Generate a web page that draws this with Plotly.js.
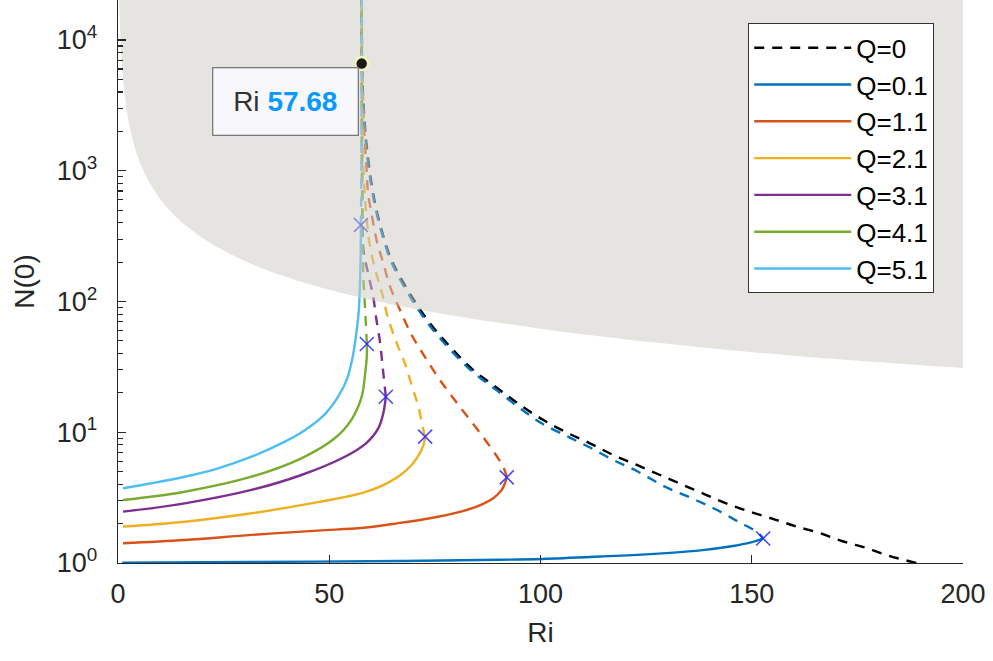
<!DOCTYPE html>
<html>
<head>
<meta charset="utf-8">
<script src="https://cdn.plot.ly/plotly-3.0.1.min.js"></script>
<style>html,body{margin:0;padding:0;background:#fff;}#chart{width:993px;height:661px;}</style>
</head>
<body>
<div id="chart"></div>
<script>
// ---- data ----
const ri_q0 = [57.68, 57.7, 58.05, 58.8, 60.0, 61.2, 62.4, 64.4, 66.75, 70.3, 73.85, 78.6, 84.1, 89.6, 95.1, 100.7, 106.2, 111.7, 117.2, 122.8, 128.3, 133.8, 139.3, 144.9, 150.4, 155.9, 160.6, 166.2, 171.7, 177.2, 182.7, 189.0];
const n_q0  = [30000, 8370, 3470, 1620, 802, 501, 352, 220, 155, 99.6, 68.1, 45.1, 29.9, 22.0, 16.2, 12.4, 9.95, 8.23, 6.70, 5.62, 4.71, 3.95, 3.31, 2.78, 2.42, 2.13, 1.90, 1.69, 1.46, 1.30, 1.13, 1.0];

const ri_q01_s = [1.0, 31.2, 66.7, 90.4, 100.3, 114.1, 125.9, 137.8, 145.6, 149.6, 152.0, 152.7];
const n_q01_s  = [1.005, 1.018, 1.036, 1.058, 1.073, 1.12, 1.17, 1.25, 1.35, 1.43, 1.51, 1.54];
const ri_q01_d = [57.66, 57.68, 57.98, 58.7, 59.9, 61.1, 62.3, 64.3, 66.6, 70.1, 73.6, 78.5, 84.0, 89.6, 95.1, 100.3, 106.2, 111.7, 117.2, 122.8, 129.5, 135.8, 141.3, 146.8, 151.2, 152.7];
const n_q01_d  = [30000, 8000, 3400, 1580, 785, 490, 345, 215, 151, 97, 66.5, 43.3, 28.9, 21.0, 15.3, 11.7, 9.36, 7.64, 6.14, 5.05, 3.83, 3.13, 2.59, 2.07, 1.73, 1.54];

const ri_q11_s = [1.18, 15.8, 31.6, 47.3, 58.1, 66.0, 73.8, 80.2, 84.9, 88.8, 90.8, 91.6, 92.0];
const n_q11_s  = [1.415, 1.50, 1.64, 1.77, 1.86, 2.01, 2.20, 2.43, 2.70, 3.13, 3.62, 4.07, 4.52];
const ri_q11_d = [92.0, 91.6, 90.9, 89.47, 87.1, 84.26, 80.24, 76.2, 72.66, 69.5, 66.75, 64.4, 62.8, 61.2, 60.0, 59.2, 58.8, 58.4, 58.1, 57.8, 57.7];
const n_q11_d  = [4.52, 5.05, 5.62, 6.70, 8.57, 11.36, 16.7, 25.1, 37.6, 55.4, 86.1, 130, 196, 295, 473, 672, 1075, 1720, 2590, 7030, 30000];

const ri_q21_s = [1.18, 15.8, 31.6, 47.3, 58.1, 64.4, 68.3, 70.7, 72.3, 72.7];
const n_q21_s  = [1.90, 2.07, 2.40, 2.92, 3.45, 4.19, 5.14, 6.32, 7.98, 9.25];
const ri_q21_d = [72.7, 72.1, 71.1, 69.5, 67.9, 66.0, 63.9, 62.4, 60.8, 59.6, 58.9, 58.1, 57.8, 57.7];
const n_q21_d  = [9.25, 11.0, 15.7, 23.0, 33.7, 47.9, 74.8, 119, 179, 270, 420, 1010, 3470, 30000];

const ri_q31_s = [1.18, 15.8, 31.6, 43.4, 53.7, 58.7, 61.6, 62.8, 63.4];
const n_q31_s  = [2.47, 2.86, 3.62, 4.71, 6.50, 8.23, 10.7, 14.0, 18.7];
const ri_q31_d = [63.4, 62.8, 62.4, 62.0, 61.1, 60.4, 59.2, 58.1, 57.8, 57.7, 57.68];
const n_q31_d  = [18.7, 28.2, 37.8, 49.3, 74.8, 109, 164, 248, 597, 3470, 30000];

const ri_q41_s = [1.18, 15.8, 31.6, 43.4, 51.3, 55.2, 57.6, 58.5, 58.9, 58.9];
const n_q41_s  = [3.03, 3.51, 4.57, 6.32, 8.99, 12.4, 18.3, 28.2, 39.0, 47.3];
const ri_q41_d = [58.9, 58.5, 58.1, 57.9, 57.8, 57.7, 57.68];
const n_q41_d  = [47.3, 86.1, 146, 295, 751, 3470, 30000];

const ri_q51_s = [1.18, 7.9, 15.8, 23.7, 31.6, 39.5, 44.3, 49.1, 52.1, 54.2, 55.5, 56.4, 57.0, 57.3, 57.45, 57.5];
const n_q51_s  = [3.73, 4.07, 4.57, 5.30, 6.50, 8.47, 10.4, 13.9, 18.7, 25.5, 37.0, 57.0, 86, 150, 250, 385];
const ri_q51_d = [57.5, 57.6, 57.65, 57.68];
const n_q51_d  = [385, 1000, 5000, 30000];

const turnRi = [152.7, 92.0, 72.7, 63.4, 58.9, 57.5];
const turnN  = [1.54, 4.52, 9.25, 18.7, 47.3, 385];

const boundRi = [0.3, 0.5, 0.8, 1.2, 2, 3, 5, 8, 12, 18, 25, 35, 50, 70, 100, 130, 160, 200];
const boundN  = [20000, 12000, 7500, 5000, 3000, 2000, 1200, 760, 505, 340, 245, 175, 123, 88, 62, 47.5, 38.5, 31];
const topRi = [0.3, 200];
const topN  = [1e6, 1e6];

const tipRi = 57.68, tipN = 6600;

const qLabels = ['Q=0', 'Q=0.1', 'Q=1.1', 'Q=2.1', 'Q=3.1', 'Q=4.1', 'Q=5.1'];
const yTickVals = [1, 10, 100, 1000, 10000];
const yTickText = ['10<sup>0</sup>', '10<sup>1</sup>', '10<sup>2</sup>', '10<sup>3</sup>', '10<sup>4</sup>'];
const xTickVals = [0, 50, 100, 150, 200];

// ---- styling ----
const colors = ['#000000', '#0072BD', '#D95319', '#EDB120', '#7E2F8E', '#77AC30', '#4DBEEE'];
const LW = 2.4;
const DASH = '10px,8px';
const SM = 1.0;

const solids = [[ri_q01_s, n_q01_s], [ri_q11_s, n_q11_s], [ri_q21_s, n_q21_s], [ri_q31_s, n_q31_s], [ri_q41_s, n_q41_s], [ri_q51_s, n_q51_s]];
const dashes = [[ri_q01_d, n_q01_d], [ri_q11_d, n_q11_d], [ri_q21_d, n_q21_d], [ri_q31_d, n_q31_d], [ri_q41_d, n_q41_d], [ri_q51_d, n_q51_d]];

const traces = [];
traces.push({x: ri_q0, y: n_q0, type: 'scatter', mode: 'lines', name: qLabels[0],
  line: {color: colors[0], width: LW, dash: DASH, shape: 'spline', smoothing: SM}, legendgroup: 'g0', hoverinfo: 'skip'});
for (let i = 0; i < 6; i++) {
  traces.push({x: solids[i][0], y: solids[i][1], type: 'scatter', mode: 'lines', name: qLabels[i + 1],
    line: {color: colors[i + 1], width: LW, shape: 'spline', smoothing: SM}, legendgroup: 'g' + (i + 1), hoverinfo: 'skip'});
  traces.push({x: dashes[i][0], y: dashes[i][1], type: 'scatter', mode: 'lines', showlegend: false,
    line: {color: colors[i + 1], width: LW, dash: DASH, shape: 'spline', smoothing: SM}, legendgroup: 'g' + (i + 1), hoverinfo: 'skip'});
}
traces.push({x: turnRi, y: turnN, type: 'scatter', mode: 'markers', showlegend: false, hoverinfo: 'skip',
  marker: {symbol: 'x-thin', size: 14, line: {color: 'rgba(40,40,255,0.85)', width: 1.6}}});

// gray region (drawn above the lines, semi transparent): top edge, then boundary filled to it
traces.push({x: topRi, y: topN, type: 'scatter', mode: 'lines', showlegend: false, hoverinfo: 'skip',
  line: {width: 0, color: 'rgba(0,0,0,0)'}});
traces.push({x: boundRi, y: boundN, type: 'scatter', mode: 'lines', fill: 'tonexty', showlegend: false, hoverinfo: 'skip',
  fillcolor: 'rgba(204,202,196,0.5)', line: {width: 0, color: 'rgba(0,0,0,0)', shape: 'spline', smoothing: 1.0}});

// data tip point
traces.push({x: [tipRi], y: [tipN], type: 'scatter', mode: 'markers', showlegend: false, hoverinfo: 'skip',
  marker: {symbol: 'circle', size: 13, color: '#1a1a1a', line: {color: '#f4f4b8', width: 2.5}}});

const axisColor = '#262626';
const fontFam = '"Liberation Sans", Arial, Helvetica, sans-serif';

const minorVals = [];
for (let k = 0; k < 5; k++) for (let m = 2; m <= 9; m++) minorVals.push(m * Math.pow(10, k));

const layout = {
  width: 993, height: 661,
  margin: {l: 118, r: 30, t: 0, b: 98},
  paper_bgcolor: '#ffffff', plot_bgcolor: '#ffffff',
  font: {family: fontFam, color: axisColor, size: 26},
  showlegend: true,
  legend: {x: 0.7456, y: 0.959, xanchor: 'left', yanchor: 'top', bgcolor: '#ffffff',
    bordercolor: '#333333', borderwidth: 1.2, font: {size: 26, color: '#000000'},
    traceorder: 'normal', tracegroupgap: 4, itemwidth: 97},
  xaxis: {range: [0, 200], tickvals: xTickVals, ticks: 'inside', ticklen: 8, tickwidth: 1.3, tickcolor: axisColor,
    showline: true, linecolor: axisColor, linewidth: 1.3, showgrid: false, zeroline: false,
    tickfont: {size: 27, color: axisColor}, ticklabelstandoff: 6,
    title: {text: 'Ri', font: {size: 28, color: axisColor}, standoff: 14}},
  yaxis: {type: 'log', range: [0, 4.306], tickvals: yTickVals, ticktext: yTickText, ticks: 'inside', ticklen: 8,
    tickwidth: 1.3, tickcolor: axisColor, showline: true, linecolor: axisColor, linewidth: 1.3, showgrid: false,
    zeroline: false, tickfont: {size: 27, color: axisColor}, ticklabelstandoff: 14,
    minor: {tickmode: 'array', tickvals: minorVals, ticks: 'inside', ticklen: 5, tickwidth: 1.1, tickcolor: axisColor, showgrid: false},
    title: {text: 'N(0)', font: {size: 28, color: axisColor}, standoff: 14}},
  annotations: [{
    xref: 'paper', yref: 'paper', x: 0.198, y: 0.8206, xanchor: 'center', yanchor: 'middle',
    text: 'Ri <span style="color:#0A99FF"><b>57.68</b></span>', showarrow: false,
    font: {size: 28, color: '#333333', family: fontFam},
    bgcolor: '#f8f8fc', bordercolor: '#7a7a7a', borderwidth: 1.3, width: 140, height: 62, borderpad: 2
  }]
};

Plotly.newPlot('chart', traces, layout, {displayModeBar: false, staticPlot: true});
</script>
</body>
</html>
